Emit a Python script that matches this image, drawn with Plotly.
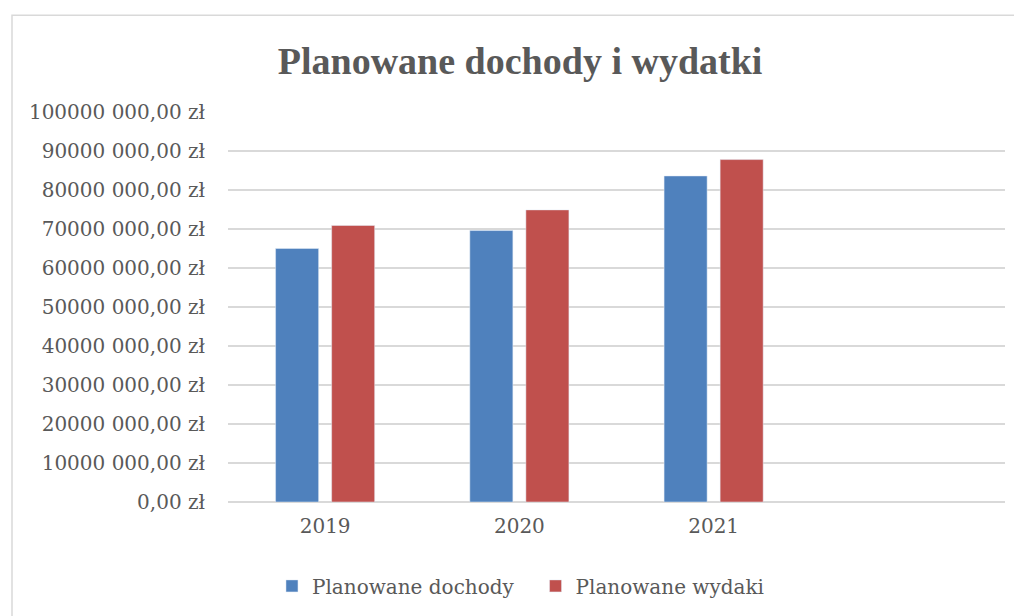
import plotly.graph_objects as go

years = ["2019", "2020", "2021", " "]
dochody = [65.0e6, 69.6e6, 83.6e6, None]
wydatki = [70.9e6, 74.9e6, 87.8e6, None]
y_ticks = [i * 10e6 for i in range(11)]
y_labels = ["0,00 zł"] + [f"{i}0000 000,00 zł" for i in range(1, 11)]

GREY = "#595959"
GRID = "#d9d9d9"
FONT = "DejaVu Serif"

fig = go.Figure()
fig.add_trace(go.Bar(x=years, y=dochody, name="Planowane dochody",
                     marker=dict(color="#4F81BD"), legend="legend"))
fig.add_trace(go.Bar(x=years, y=wydatki, name="Planowane wydaki",
                     marker=dict(color="#C0504D"), legend="legend2"))

# chart area frame
fig.add_shape(type="rect", xref="paper", yref="paper",
              x0=-0.278, x1=1.04, y0=-0.33, y1=1.248,
              line=dict(color=GRID, width=1.5), layer="below")

legend_style = dict(orientation="h", xanchor="left", y=-0.212, yanchor="middle",
                    font=dict(size=20, color=GREY), itemwidth=30)

# page body has an 8px margin, so the figure is 8px smaller than the window
fig.update_layout(
    width=1014, height=608,
    margin=dict(l=220, r=17, t=104, b=113),
    paper_bgcolor="white", plot_bgcolor="white",
    barmode="group", bargap=0.423, bargroupgap=0.232,
    font=dict(family=FONT, color=GREY, size=20),
    title=dict(text="<b>Planowane dochody i wydatki</b>", x=0.505, xanchor="center",
               y=0.914, yanchor="middle",
               font=dict(size=38, color=GREY, family="Liberation Serif")),
    legend=dict(x=0.0566, **legend_style),
    legend2=dict(x=0.3958, **legend_style),
    showlegend=True,
)
fig.update_xaxes(type="category", range=[-0.5, 3.5], showgrid=False, showline=False,
                 ticks="", tickfont=dict(size=20), ticklabelstandoff=10)
fig.update_yaxes(range=[0, 100e6], tickvals=y_ticks, ticktext=y_labels,
                 showgrid=True, gridcolor=GRID, gridwidth=1.5,
                 zeroline=True, zerolinecolor=GRID, zerolinewidth=1.5,
                 showline=False, ticks="", tickfont=dict(size=20), ticklabelstandoff=22)

fig.write_html("out.html")
